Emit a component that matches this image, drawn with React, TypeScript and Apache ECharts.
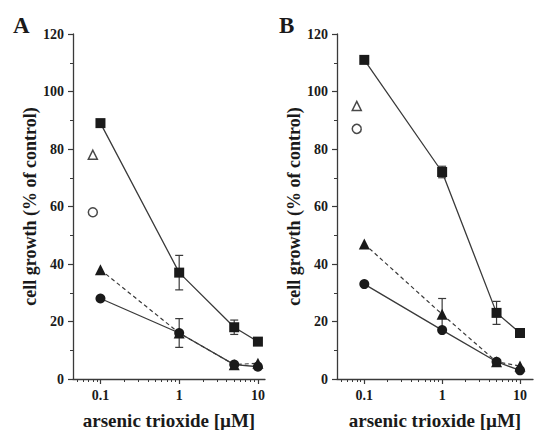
import React, { useEffect, useRef } from "react";
import * as echarts from "echarts";

// ---- data ----
const doses = [0.1, 1, 5, 10];
const openDose = 0.08;
const xMajorTicks = [0.1, 1, 10];
const xMinorTicks = [0.05, 0.06, 0.07, 0.08, 0.09, 0.2, 0.3, 0.4, 0.5, 0.6, 0.7, 0.8, 0.9, 2, 3, 4, 5, 6, 7, 8, 9];
const panelLabels = ["A", "B"];
const xTitle = "arsenic trioxide [µM]";
const yTitle = "cell growth (% of control)";

const aSquare = [89, 37, 18, 13];
const aSquareErr = [0, 6, 2.5, 0];
const aTriangle = [38, 16, 5, 5.5];
const aTriangleErr = [0, 5, 0, 0];
const aCircle = [28, 16, 5, 4.3];
const aCircleErr = [0, 0, 0, 0];
const aOpenTriangle = 78;
const aOpenCircle = 58;

const bSquare = [111, 72, 23, 16];
const bSquareErr = [0, 2, 4, 0];
const bTriangle = [47, 22.5, 6, 4.5];
const bTriangleErr = [0, 5.5, 0, 0];
const bCircle = [33, 17, 6, 3];
const bCircleErr = [0, 0, 0, 0];
const bOpenTriangle = 95;
const bOpenCircle = 87;

const FONT = "Liberation Serif";
const INK = "#1a1a1a";
const LINE = "#3a3a3a";

function pts(vals: number[]) {
  return doses.map((d, i) => [d, vals[i]]);
}
function errs(vals: number[], e: number[]) {
  const out: number[][] = [];
  doses.forEach((d, i) => {
    if (e[i] > 0) out.push([d, vals[i] - e[i], vals[i] + e[i]]);
  });
  return out;
}

function buildPanel(idx: number, sq: number[], sqE: number[], tr: number[], trE: number[], ci: number[], ciE: number[], oTr: number, oCi: number) {
  const axis = { xAxisIndex: idx * 2, yAxisIndex: idx };
  const errData = [...errs(sq, sqE), ...errs(tr, trE), ...errs(ci, ciE)];
  return [
    {
      type: "custom",
      ...axis,
      data: errData,
      encode: { x: 0, y: [1, 2] },
      z: 3,
      renderItem: (_p: any, api: any) => {
        const x = api.value(0);
        const top = api.coord([x, api.value(2)]);
        const bot = api.coord([x, api.value(1)]);
        const w = 4;
        const style = { stroke: LINE, lineWidth: 1.2 };
        return {
          type: "group",
          children: [
            { type: "line", shape: { x1: top[0], y1: top[1], x2: bot[0], y2: bot[1] }, style },
            { type: "line", shape: { x1: top[0] - w, y1: top[1], x2: top[0] + w, y2: top[1] }, style },
            { type: "line", shape: { x1: bot[0] - w, y1: bot[1], x2: bot[0] + w, y2: bot[1] }, style },
          ],
        };
      },
    },
    {
      type: "line",
      ...axis,
      data: pts(sq),
      symbol: "rect",
      symbolSize: 10,
      z: 4,
      lineStyle: { color: LINE, width: 1.3 },
      itemStyle: { color: INK },
    },
    {
      type: "line",
      ...axis,
      data: pts(tr),
      symbol: "triangle",
      symbolSize: 11,
      z: 4,
      lineStyle: { color: LINE, width: 1.2, type: [4, 3] },
      itemStyle: { color: INK },
    },
    {
      type: "line",
      ...axis,
      data: pts(ci),
      symbol: "circle",
      symbolSize: 10,
      z: 5,
      lineStyle: { color: LINE, width: 1.3 },
      itemStyle: { color: INK },
    },
    {
      type: "scatter",
      ...axis,
      data: [[openDose, oTr]],
      symbol: "triangle",
      symbolSize: 9,
      itemStyle: { color: "#fff", borderColor: INK, borderWidth: 1.5 },
    },
    {
      type: "scatter",
      ...axis,
      data: [[openDose, oCi]],
      symbol: "circle",
      symbolSize: 9,
      itemStyle: { color: "#fff", borderColor: INK, borderWidth: 1.5 },
    },
  ];
}

function xAxes(grid: number, min: number, max: number) {
  return [
    {
      type: "log",
      gridIndex: grid,
      position: "bottom",
      min,
      max,
      logBase: 10,
      name: xTitle,
      nameLocation: "middle",
      nameGap: 32,
      nameTextStyle: { fontFamily: FONT, fontWeight: "bold", fontSize: 19, color: INK },
      axisLine: { show: true, lineStyle: { color: LINE, width: 1.3 } },
      axisTick: { show: true, length: 5, customValues: xMajorTicks, lineStyle: { color: LINE, width: 1.2 } },
      axisLabel: {
        show: true,
        customValues: xMajorTicks,
        margin: 9,
        fontFamily: FONT,
        fontWeight: "bold",
        fontSize: 14,
        color: INK,
        formatter: (v: number) => String(Math.round(v * 10) / 10),
      },
      splitLine: { show: false },
      minorTick: { show: false },
    },
    {
      type: "log",
      gridIndex: grid,
      position: "bottom",
      min,
      max,
      logBase: 10,
      axisLine: { show: false },
      axisTick: { show: true, length: 3, customValues: xMinorTicks, lineStyle: { color: LINE, width: 1 } },
      axisLabel: { show: false },
      splitLine: { show: false },
    },
  ];
}

function yAxis(grid: number) {
  return {
    type: "value",
    gridIndex: grid,
    min: 0,
    max: 120,
    interval: 20,
    name: yTitle,
    nameLocation: "middle",
    nameGap: 31,
    nameTextStyle: { fontFamily: FONT, fontWeight: "bold", fontSize: 18, color: INK },
    axisLine: { show: true, lineStyle: { color: LINE, width: 1.3 } },
    axisTick: { show: true, length: 5, lineStyle: { color: LINE, width: 1.2 } },
    minorTick: { show: true, splitNumber: 2, length: 3, lineStyle: { color: LINE, width: 1 } },
    axisLabel: { margin: 9, fontFamily: FONT, fontWeight: "bold", fontSize: 14, color: INK },
    splitLine: { show: false },
  };
}

export default function App() {
  const ref = useRef<HTMLDivElement>(null);
  useEffect(() => {
    if (!ref.current) return;
    const chart = echarts.init(ref.current, undefined, { renderer: "svg" });
    chart.setOption({
      animation: false,
      backgroundColor: "#fff",
      grid: [
        { left: 73, top: 34, width: 192, height: 345, outerBoundsMode: "none", containLabel: false },
        { left: 337, top: 34, width: 196, height: 345, outerBoundsMode: "none", containLabel: false },
      ],
      xAxis: [...xAxes(0, 0.0448, 12.3), ...xAxes(1, 0.0446, 14.7)],
      yAxis: [yAxis(0), yAxis(1)],
      graphic: [
        {
          type: "text",
          left: 13,
          top: 14,
          style: { text: panelLabels[0], font: `bold 23px '${FONT}'`, fill: INK },
        },
        {
          type: "text",
          left: 279,
          top: 14,
          style: { text: panelLabels[1], font: `bold 23px '${FONT}'`, fill: INK },
        },
      ],
      series: [
        ...buildPanel(0, aSquare, aSquareErr, aTriangle, aTriangleErr, aCircle, aCircleErr, aOpenTriangle, aOpenCircle),
        ...buildPanel(1, bSquare, bSquareErr, bTriangle, bTriangleErr, bCircle, bCircleErr, bOpenTriangle, bOpenCircle),
      ],
    });
    return () => chart.dispose();
  }, []);
  return (
    <div
      ref={ref}
      style={{ position: "fixed", left: 0, top: 0, width: 536, height: 430, background: "#fff" }}
    />
  );
}
